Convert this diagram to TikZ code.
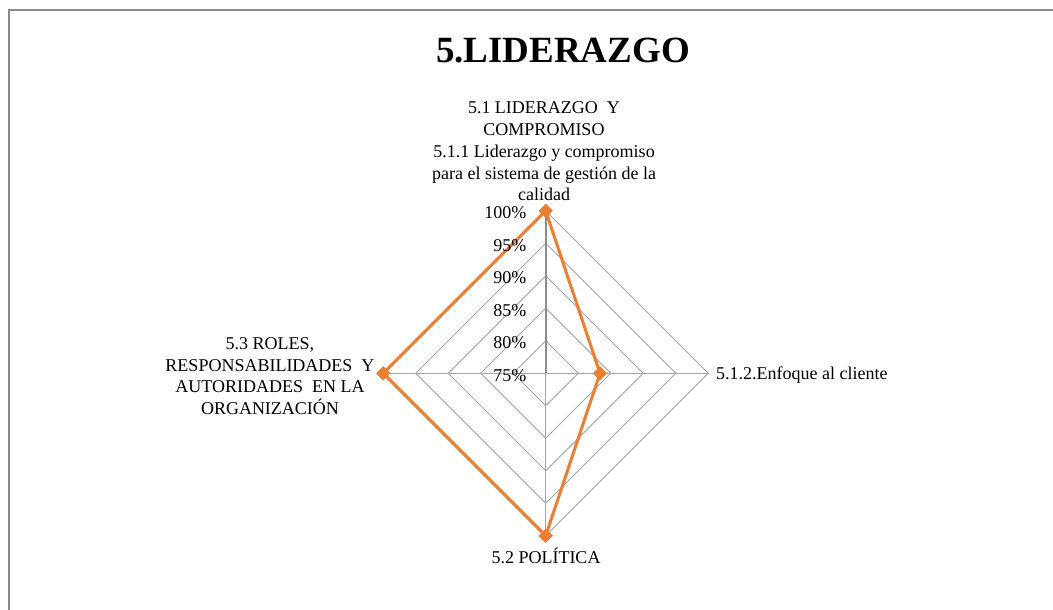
\documentclass[tikz,border=0pt]{standalone}
\usepackage{fontspec}
\setmainfont{Liberation Serif}
\usetikzlibrary{shapes.geometric,calc}
\definecolor{serieorange}{HTML}{ED7D31}
\definecolor{gridgray}{HTML}{A6A6A6}
\definecolor{axisgray}{HTML}{8C8C8C}
\definecolor{framegray}{HTML}{898989}
\begin{document}
\begin{tikzpicture}[x=1pt,y=-1pt,
  frameline/.style={draw=framegray,line width=1.2pt},
  ringline/.style={draw=gridgray,line width=0.9pt},
  spokeline/.style={draw=gridgray,line width=0.9pt},
  valaxis/.style={draw=axisgray,line width=1.6pt},
  serie/.style={draw=serieorange,line width=3pt,line join=round},
  datamark/.style={diamond,fill=serieorange,inner sep=0pt,minimum width=14pt,minimum height=14pt},
  lbl/.style={font=\fontsize{18}{21.7}\selectfont,align=center,inner sep=0pt},
  tick/.style={font=\fontsize{18}{21.7}\selectfont,anchor=east,inner sep=0pt},
  ttl/.style={font=\fontsize{37}{40}\selectfont\bfseries,inner sep=0pt}]
\useasboundingbox (0,0) rectangle (1053,610);
\fill[white] (0,0) rectangle (1053,610);
\draw[frameline] (9,610) -- (9,10) -- (1053,10);
\node[ttl] (title) at (563,51) {5.LIDERAZGO};
\coordinate (C) at (545.7,373.3);
% rings
\foreach \k in {1,...,5}{
  \draw[ringline] ($(C)+(0,-32.5*\k)$) -- ($(C)+(32.5*\k,0)$) -- ($(C)+(0,32.5*\k)$) -- ($(C)+(-32.5*\k,0)$) -- cycle;
}
% spokes
\coordinate (T) at (545.7,210.8);
\coordinate (Rr) at (708.2,373.3);
\coordinate (B) at (545.7,535.8);
\coordinate (L) at (383.2,373.3);
\draw[spokeline] (C) -- (Rr);
\draw[spokeline] (C) -- (B);
\draw[spokeline] (C) -- (L);
\draw[valaxis] (C) -- (T);
% data
\node[datamark] (p1) at (545.7,210.8) {};
\node[datamark] (p2) at (600,373.3) {};
\node[datamark] (p3) at (545.7,535.8) {};
\node[datamark] (p4) at (383.2,373.3) {};
\draw[serie] (p1.center) -- (p2.center) -- (p3.center) -- (p4.center) -- cycle;
\foreach \p in {p1,p2,p3,p4}{\node[datamark] at (\p) {};}
% tick labels
\foreach \v [count=\i from 0] in {75,80,85,90,95,100}{
  \node[tick] at (526.5,375.3-32.5*\i) {\v\%};
}
% category labels
\node[lbl] (ltop) at (544,151.5) {5.1 LIDERAZGO\ \ Y\\COMPROMISO\\5.1.1 Liderazgo y compromiso\\para el sistema de gestión de la\\calidad};
\node[lbl,anchor=west] (lright) at (716,375.5) {5.1.2.Enfoque al cliente};
\node[lbl] (lbottom) at (546,555.5) {5.2 POLÍTICA};
\node[lbl] (lleft) at (270,376) {5.3 ROLES,\\RESPONSABILIDADES\ \ Y\\AUTORIDADES\ \ EN LA\\ORGANIZACIÓN};
\end{tikzpicture}
\end{document}
